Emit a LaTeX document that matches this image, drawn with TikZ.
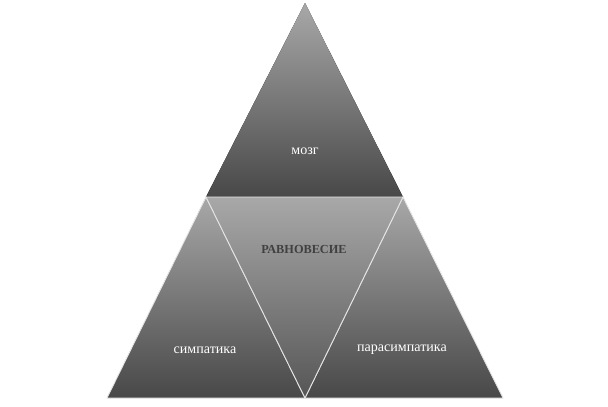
\documentclass[tikz,border=0pt]{standalone}
\usepackage{fontspec}
\setmainfont{Liberation Serif}
\usepackage{xcolor}
\usetikzlibrary{positioning,calc}
\definecolor{PyrLight}{RGB}{168,168,168}
\definecolor{PyrDark}{RGB}{72,72,72}
\definecolor{PyrMid}{RGB}{86,86,86}
\definecolor{PyrText}{RGB}{64,64,64}
\tikzset{
    piece/.style={draw=white!80!gray, line width=0.5pt, top color=PyrLight, bottom color=PyrDark},
    midpiece/.style={draw=white!80!gray, line width=0.5pt, top color=PyrLight, bottom color=PyrMid},
    label/.style={text=white, font=\fontsize{8}{10}\selectfont},
    titlelabel/.style={text=PyrText, font=\bfseries\fontsize{7}{9}\selectfont}
}
\begin{document}
\begin{tikzpicture}[x=0.02cm, y=-0.02cm]
    \useasboundingbox (0,0) rectangle (608,406);
    % vertices of the big triangle
    \coordinate (apex) at (305,3);
    \coordinate (ml) at (206,197);
    \coordinate (mr) at (403,197);
    \coordinate (bl) at (107,398);
    \coordinate (bm) at (305,398);
    \coordinate (br) at (503,398);
    % four parts
    \fill[piece, draw=none] (apex) -- (mr) -- (ml) -- cycle;
    \path[piece] (ml) -- (bm) -- (bl) -- cycle;
    \path[piece] (mr) -- (br) -- (bm) -- cycle;
    \path[midpiece] (ml) -- (mr) -- (bm) -- cycle;
    % texts
    \node[label] (brain) at (305,151) {мозг};
    \node[titlelabel] (balance) at (304,249) {РАВНОВЕСИЕ};
    \node[label] (symp) at (205,350) {симпатика};
    \node[label] (parasymp) at (402,350) {парасимпатика};
\end{tikzpicture}
\end{document}
